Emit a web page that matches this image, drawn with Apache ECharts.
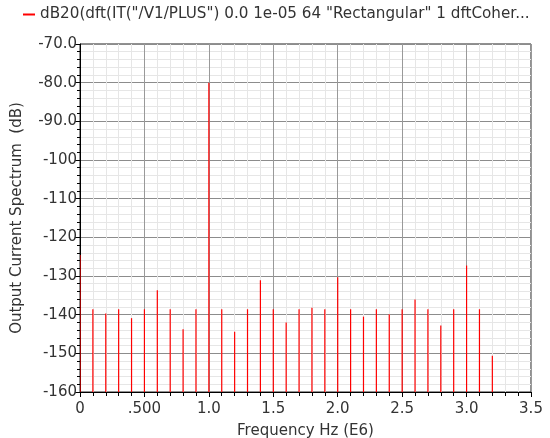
<!DOCTYPE html>
<html>
<head>
<meta charset="utf-8">
<script src="https://cdn.jsdelivr.net/npm/echarts@6/dist/echarts.min.js"></script>
<style>
html,body{margin:0;padding:0;background:#fff;}
#main{width:550px;height:438px;}
</style>
</head>
<body>
<div id="main"></div>
<script>
// Data (frequency in E6 Hz, spectrum in dB)
var freqs = [0, 0.1, 0.2, 0.3, 0.4, 0.5, 0.6, 0.7, 0.8, 0.9, 1.0, 1.1, 1.2, 1.3, 1.4, 1.5, 1.6, 1.7, 1.8, 1.9, 2.0, 2.1, 2.2, 2.3, 2.4, 2.5, 2.6, 2.7, 2.8, 2.9, 3.0, 3.1, 3.2];
var spectrum = [-124.6, -138.6, -139.7, -138.6, -140.9, -138.6, -133.7, -138.6, -143.8, -138.6, -80.0, -138.6, -144.4, -138.6, -131.1, -138.6, -142.0, -138.6, -138.2, -138.6, -130.3, -138.6, -140.5, -138.6, -139.9, -138.6, -136.1, -138.6, -142.8, -138.6, -127.3, -138.6, -150.6];
var xTickLabels = ['0', '.500', '1.0', '1.5', '2.0', '2.5', '3.0', '3.5'];
var yTickLabels = ['-160', '-150', '-140', '-130', '-120', '-110', '-100', '-90.0', '-80.0', '-70.0'];
var seriesName = 'dB20(dft(IT("/V1/PLUS") 0.0 1e-05 64 "Rectangular" 1 dftCoher...';

var yMin = -160, yMax = -70;
var data = freqs.map(function (f, i) { return [f, spectrum[i]]; });

var chart = echarts.init(document.getElementById('main'), null, {renderer: 'canvas'});
var font = 'DejaVu Sans';
var fs = 15;
var txt = '#333';
chart.setOption({
  animation: false,
  backgroundColor: '#fff',
  legend: {
    left: 23, top: 7, padding: 0,
    icon: 'rect', itemWidth: 12, itemHeight: 2,
    selectedMode: false,
    textStyle: {fontFamily: font, fontSize: 15.2, color: txt},
    data: [{name: seriesName, itemStyle: {color: '#ff0000'}}]
  },
  grid: {
    left: 80, right: 19, top: 44, bottom: 46,
    containLabel: false, outerBoundsMode: 'none',
    show: true, borderColor: '#222', borderWidth: 1, backgroundColor: 'transparent'
  },
  xAxis: {
    type: 'value', min: 0, max: 3.5, interval: 0.5,
    name: 'Frequency Hz (E6)', nameLocation: 'middle', nameGap: 32,
    nameTextStyle: {fontFamily: font, fontSize: fs, color: txt},
    axisLine: {show: true, lineStyle: {color: '#000', width: 1}},
    axisTick: {show: true, length: 5, lineStyle: {color: '#000'}},
    minorTick: {show: true, splitNumber: 5, length: 4, lineStyle: {color: '#000'}},
    axisLabel: {
      fontFamily: font, fontSize: fs, color: txt, margin: 10,
      formatter: function (v) { return xTickLabels[Math.round(v / 0.5)]; }
    },
    splitLine: {show: true, lineStyle: {color: '#999', width: 1}},
    minorSplitLine: {show: true, lineStyle: {color: '#e6e6e6', width: 1}}
  },
  yAxis: {
    type: 'value', min: yMin, max: yMax, interval: 10,
    name: 'Output Current Spectrum  (dB)', nameLocation: 'middle', nameGap: 55,
    nameTextStyle: {fontFamily: font, fontSize: fs, color: txt},
    axisLine: {show: true, lineStyle: {color: '#000', width: 1}},
    axisTick: {show: true, length: 5, lineStyle: {color: '#000'}},
    minorTick: {show: true, splitNumber: 5, length: 3, lineStyle: {color: '#000'}},
    axisLabel: {
      fontFamily: font, fontSize: fs, color: txt, margin: 3,
      formatter: function (v) { return yTickLabels[Math.round((v - yMin) / 10)]; }
    },
    splitLine: {show: true, lineStyle: {color: '#8c8c8c', width: 1}},
    minorSplitLine: {show: true, lineStyle: {color: '#e6e6e6', width: 1}}
  },
  series: [{
    name: seriesName,
    type: 'custom',
    z: 5,
    itemStyle: {color: '#ff0000'},
    data: data,
    clip: true,
    renderItem: function (params, api) {
      var x = api.value(0), y = api.value(1);
      var top = api.coord([x, y]);
      var base = api.coord([x, yMin]);
      return {
        type: 'line',
        shape: {x1: top[0], y1: base[1], x2: top[0], y2: top[1]},
        style: {stroke: '#ff0000', lineWidth: 1.2}
      };
    }
  }]
});
</script>
</body>
</html>
